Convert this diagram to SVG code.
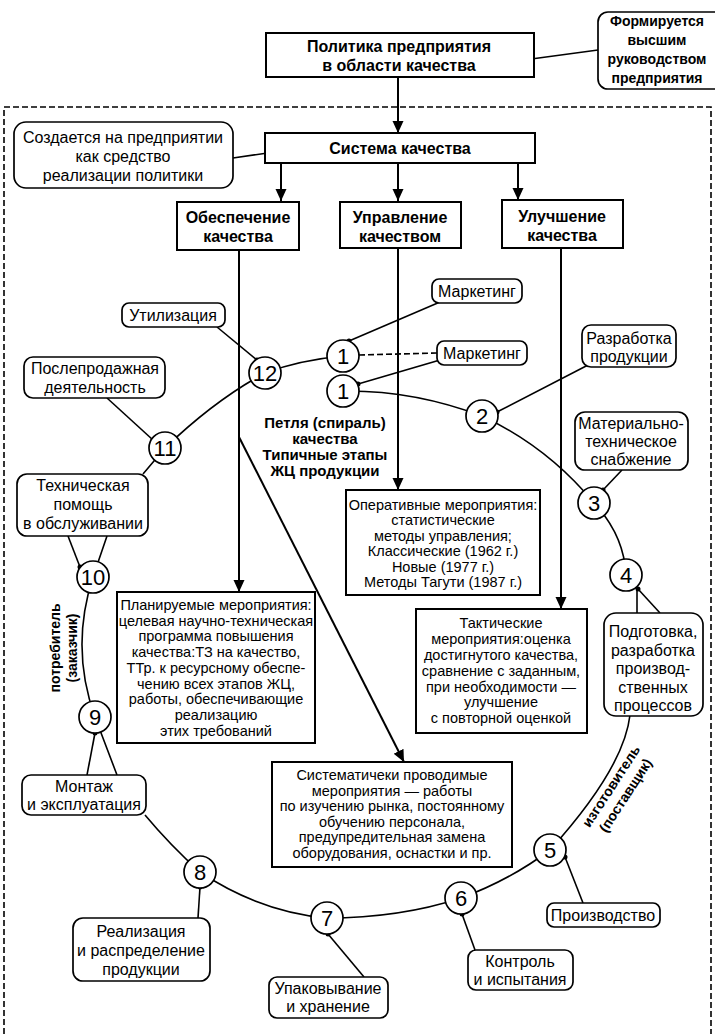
<svg xmlns="http://www.w3.org/2000/svg" width="715" height="1034" viewBox="0 0 715 1034">
<defs>
<style>
.box{fill:#fff;stroke:#000;stroke-width:2}
.call{fill:#fff;stroke:#000;stroke-width:1.7}
.num{fill:#fff;stroke:#000;stroke-width:1.7}
.ln{fill:none;stroke:#000;stroke-width:2}
.sp{fill:none;stroke:#000;stroke-width:1.6}
.dash{fill:none;stroke:#000;stroke-width:1.6;stroke-dasharray:6 3}
.dot{fill:#000}
text{font-family:"Liberation Sans",Arial,sans-serif;fill:#000;text-anchor:middle}
.b{font-weight:bold;font-size:16px}
.bl{font-weight:bold;font-size:15px}
.bs{font-weight:bold;font-size:14px}
.t{font-size:14.5px}
.c{font-size:16px}
.n{font-size:22px}
</style>
<marker id="ah" markerUnits="userSpaceOnUse" markerWidth="12" markerHeight="12" refX="12" refY="5.5" orient="auto">
<path d="M0,0 L12,5.5 L0,11 z" fill="#000"/>
</marker>
</defs>
<rect x="0" y="0" width="715" height="1034" fill="#fff"/>
<path class="dash" d="M4,1034 V107 H711 V1034"/>

<g id="connectors">
<path class="ln" d="M398,77 L398,133" marker-end="url(#ah)"/>
<path class="ln" d="M281,163 L281,201" marker-end="url(#ah)"/>
<path class="ln" d="M398,163 L398,201" marker-end="url(#ah)"/>
<path class="ln" d="M518,163 L518,200" marker-end="url(#ah)"/>
<path class="ln" d="M239,250 L239,592" marker-end="url(#ah)"/>
<path class="ln" d="M398,248 L398,490" marker-end="url(#ah)"/>
<path class="ln" d="M561,248 L561,609" marker-end="url(#ah)"/>
<path class="ln" d="M239,437 L404,762" marker-end="url(#ah)"/>
<path class="sp" d="M509,62 L598,50"/><circle class="dot" cx="509" cy="62" r="2.5"/>
<path class="sp" d="M288,150 L233,158"/><circle class="dot" cx="288" cy="150" r="2.5"/>
<path class="sp" d="M343,356 Q300,360 265,373 Q215,400 165,448 L143,474"/>
<path class="sp" d="M107,536 L93,577 Q70,648 95,717 L117,775"/>
<path class="sp" d="M145,815 Q170,845 200,872 Q260,912 327,918 Q400,918 461,898 Q510,880 550,850 Q624,768 630,715"/>
<path class="sp" d="M637,613 L637,591"/>
<path class="sp" d="M626,575 Q624,535 594,503 Q548,447 482,416 Q413,390 343,391"/>
<path class="dash" d="M359,355 L437,353"/>
<path class="sp" d="M440,302 L349,341"/><circle class="dot" cx="349" cy="341" r="2.5"/>
<path class="sp" d="M440,360 L358,384"/><circle class="dot" cx="358" cy="384" r="2.5"/>
<path class="sp" d="M590,364 L497,412"/><circle class="dot" cx="497" cy="412" r="2.5"/>
<path class="sp" d="M622,470 L603,490"/><circle class="dot" cx="603" cy="490" r="2.5"/>
<path class="sp" d="M660,613 L638,589"/><circle class="dot" cx="638" cy="589" r="2.5"/>
<path class="sp" d="M583,903 L565,857"/><circle class="dot" cx="565" cy="857" r="2.5"/>
<path class="sp" d="M475,950 L462,914"/><circle class="dot" cx="462" cy="914" r="2.5"/>
<path class="sp" d="M364,977 L328,934"/><circle class="dot" cx="328" cy="934" r="2.5"/>
<path class="sp" d="M198,918 L200,887"/><circle class="dot" cx="200" cy="887" r="2.5"/>
<path class="sp" d="M87,775 L95,733"/><circle class="dot" cx="95" cy="733" r="2.5"/>
<path class="sp" d="M68,536 L80,567"/><circle class="dot" cx="80" cy="567" r="2.5"/>
<path class="sp" d="M107,398 L153,440"/><circle class="dot" cx="153" cy="440" r="2.5"/>
<path class="sp" d="M217,327 L257,360"/><circle class="dot" cx="257" cy="360" r="2.5"/>
</g>

<g id="policy"><rect class="box" x="266" y="33" width="268" height="44"/>
<text class="b" x="399" y="52">Политика предприятия</text><text class="b" x="399" y="71">в области качества</text></g>
<g id="note-top"><rect class="call" x="598" y="12" width="135" height="77" rx="10"/>
<text class="bs" x="657" y="26">Формируется</text><text class="bs" x="657" y="45">высшим</text><text class="bs" x="657" y="64">руководством</text><text class="bs" x="657" y="83">предприятия</text></g>
<g id="system"><rect class="box" x="265" y="133" width="270" height="30"/><text class="b" x="400" y="154">Система качества</text></g>
<g id="note-system"><rect class="call" x="14" y="122" width="219" height="66" rx="12"/>
<text class="c" x="123" y="143">Создается на предприятии</text><text class="c" x="123" y="162">как средство</text><text class="c" x="123" y="181">реализации политики</text></g>
<g id="assurance"><rect class="box" x="177" y="202" width="122" height="48"/><text class="b" x="238" y="223">Обеспечение</text><text class="b" x="238" y="242">качества</text></g>
<g id="management"><rect class="box" x="340" y="202" width="121" height="46"/><text class="b" x="400" y="223">Управление</text><text class="b" x="400" y="242">качеством</text></g>
<g id="improvement"><rect class="box" x="502" y="200" width="121" height="48"/><text class="b" x="562" y="222">Улучшение</text><text class="b" x="562" y="241">качества</text></g>

<g id="loop-label"><text class="bl" x="325" y="428">Петля (спираль)</text><text class="bl" x="325" y="444">качества</text><text class="bl" x="325" y="460">Типичные этапы</text><text class="bl" x="325" y="476">ЖЦ продукции</text></g>

<g id="operational"><rect class="box" x="346" y="490" width="194" height="105"/>
<text class="t" x="443" y="510">Оперативные мероприятия:</text><text class="t" x="443" y="525">статистические</text><text class="t" x="443" y="541">методы управления;</text><text class="t" x="443" y="556">Классические (1962 г.)</text><text class="t" x="443" y="572">Новые (1977 г.)</text><text class="t" x="443" y="587">Методы Тагути (1987 г.)</text></g>
<g id="planned"><rect class="box" x="117" y="592" width="198" height="151"/>
<text class="t" x="216" y="610">Планируемые мероприятия:</text><text class="t" x="216" y="626">целевая научно-техническая</text><text class="t" x="216" y="641">программа повышения</text><text class="t" x="216" y="657">качества:ТЗ на качество,</text><text class="t" x="216" y="673">ТТр. к ресурсному обеспе-</text><text class="t" x="216" y="689">чению всех этапов ЖЦ,</text><text class="t" x="216" y="704">работы, обеспечивающие</text><text class="t" x="216" y="720">реализацию</text><text class="t" x="216" y="736">этих требований</text></g>
<g id="tactical"><rect class="box" x="416" y="609" width="171" height="124"/>
<text class="t" x="501" y="628">Тактические</text><text class="t" x="501" y="644">мероприятия:оценка</text><text class="t" x="501" y="660">достигнутого качества,</text><text class="t" x="501" y="676">сравнение с заданным,</text><text class="t" x="501" y="692">при необходимости —</text><text class="t" x="501" y="707">улучшение</text><text class="t" x="501" y="723">с повторной оценкой</text></g>
<g id="systematic"><rect class="box" x="272" y="762" width="240" height="105"/>
<text class="t" x="392" y="780">Систематичеки проводимые</text><text class="t" x="392" y="796">мероприятия — работы</text><text class="t" x="392" y="811">по изучению рынка, постоянному</text><text class="t" x="392" y="827">обучению персонала,</text><text class="t" x="392" y="842">предупредительная замена</text><text class="t" x="392" y="858">оборудования, оснастки и пр.</text></g>

<g id="lbl-consumer" transform="translate(55,648) rotate(-90)"><text class="bs" x="0" y="5">потребитель</text><text class="bs" x="0" y="22">(заказчик)</text></g>
<g id="lbl-maker" transform="translate(611,786) rotate(-57)"><text class="bs" x="0" y="5">изготовитель</text><text class="bs" x="0" y="22">(поставщик)</text></g>

<g id="s1a"><circle class="num" cx="343" cy="356" r="16"/><text class="n" x="343" y="364">1</text></g>
<g id="s1b"><circle class="num" cx="343" cy="391" r="16"/><text class="n" x="343" y="399">1</text></g>
<g id="s2"><circle class="num" cx="482" cy="416" r="16"/><text class="n" x="482" y="424">2</text></g>
<g id="s3"><circle class="num" cx="594" cy="503" r="16"/><text class="n" x="594" y="511">3</text></g>
<g id="s4"><circle class="num" cx="626" cy="575" r="16"/><text class="n" x="626" y="583">4</text></g>
<g id="s5"><circle class="num" cx="550" cy="850" r="16"/><text class="n" x="550" y="858">5</text></g>
<g id="s6"><circle class="num" cx="461" cy="898" r="16"/><text class="n" x="461" y="906">6</text></g>
<g id="s7"><circle class="num" cx="327" cy="918" r="16"/><text class="n" x="327" y="926">7</text></g>
<g id="s8"><circle class="num" cx="200" cy="872" r="16"/><text class="n" x="200" y="880">8</text></g>
<g id="s9"><circle class="num" cx="95" cy="717" r="16"/><text class="n" x="95" y="725">9</text></g>
<g id="s10"><circle class="num" cx="93" cy="577" r="16"/><text class="n" x="93" y="585">10</text></g>
<g id="s11"><circle class="num" cx="165" cy="448" r="16"/><text class="n" x="165" y="456">11</text></g>
<g id="s12"><circle class="num" cx="265" cy="373" r="16"/><text class="n" x="265" y="381">12</text></g>

<g id="marketing1"><rect class="call" x="432" y="279" width="90" height="24" rx="7"/><text class="c" x="477" y="297">Маркетинг</text></g>
<g id="marketing2"><rect class="call" x="437" y="341" width="90" height="24" rx="7"/><text class="c" x="482" y="359">Маркетинг</text></g>
<g id="development"><rect class="call" x="582" y="325" width="94" height="42" rx="9"/><text class="c" x="629" y="344">Разработка</text><text class="c" x="629" y="362">продукции</text></g>
<g id="supply"><rect class="call" x="575" y="412" width="113" height="58" rx="10"/><text class="c" x="631" y="429">Материально-</text><text class="c" x="631" y="447">техническое</text><text class="c" x="631" y="465">снабжение</text></g>
<g id="preparation"><rect class="call" x="604" y="613" width="99" height="103" rx="12"/><text class="c" x="653" y="637">Подготовка,</text><text class="c" x="653" y="656">разработка</text><text class="c" x="653" y="674">производ-</text><text class="c" x="653" y="693">ственных</text><text class="c" x="653" y="711">процессов</text></g>
<g id="production"><rect class="call" x="547" y="903" width="113" height="24" rx="7"/><text class="c" x="603" y="921">Производство</text></g>
<g id="control"><rect class="call" x="468" y="950" width="105" height="40" rx="8"/><text class="c" x="520" y="967">Контроль</text><text class="c" x="520" y="985">и испытания</text></g>
<g id="packing"><rect class="call" x="269" y="977" width="119" height="41" rx="8"/><text class="c" x="328" y="994">Упаковывание</text><text class="c" x="328" y="1012">и хранение</text></g>
<g id="sales"><rect class="call" x="73" y="918" width="137" height="63" rx="10"/><text class="c" x="141" y="937">Реализация</text><text class="c" x="141" y="956">и распределение</text><text class="c" x="141" y="975">продукции</text></g>
<g id="installation"><rect class="call" x="22" y="775" width="124" height="40" rx="9"/><text class="c" x="84" y="792">Монтаж</text><text class="c" x="84" y="810">и эксплуатация</text></g>
<g id="tech-help"><rect class="call" x="17" y="474" width="131" height="62" rx="10"/><text class="c" x="83" y="491">Техническая</text><text class="c" x="83" y="510">помощь</text><text class="c" x="83" y="529">в обслуживании</text></g>
<g id="after-sales"><rect class="call" x="24" y="357" width="141" height="41" rx="9"/><text class="c" x="95" y="374">Послепродажная</text><text class="c" x="95" y="393">деятельность</text></g>
<g id="disposal"><rect class="call" x="122" y="303" width="103" height="24" rx="7"/><text class="c" x="173" y="321">Утилизация</text></g>
</svg>
